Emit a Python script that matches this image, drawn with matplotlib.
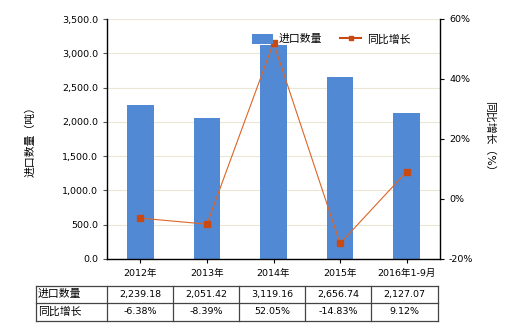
import matplotlib
matplotlib.use("Agg")
import matplotlib.pyplot as plt
from matplotlib.lines import Line2D
from matplotlib.patches import Patch
from matplotlib.ticker import FuncFormatter

plt.rcParams['font.family'] = ['DejaVu Sans', 'Noto Sans CJK SC']

categories = ["2012年", "2013年", "2014年", "2015年", "2016年1-9月"]
import_qty = [2239.18, 2051.42, 3119.16, 2656.74, 2127.07]
yoy_growth = [-6.38, -8.39, 52.05, -14.83, 9.12]
qty_labels = ["2,239.18", "2,051.42", "3,119.16", "2,656.74", "2,127.07"]
growth_labels = ["-6.38%", "-8.39%", "52.05%", "-14.83%", "9.12%"]
series_names = ["进口数量", "同比增长"]

bar_color = "#5189d4"
line_color = "#dd6526"
marker_color = "#c94912"
fs = 6.8
fs_cjk = 7.8

fig = plt.figure(figsize=(5.2, 3.3), dpi=100)
ax = fig.add_axes([107/520, 1-259/330, (440-107)/520, (259-19)/330])
x = list(range(len(categories)))
ax.bar(x, import_qty, width=0.4, color=bar_color, zorder=2)
ax.set_xlim(-0.5, len(categories)-0.5)
ax.set_ylim(0, 3500)
ax.set_yticks([i*500 for i in range(8)])
ax.yaxis.set_major_formatter(FuncFormatter(lambda v, p: f"{v:,.1f}"))
ax.set_xticks(x)
ax.set_xticklabels(categories, fontsize=fs)
ax.tick_params(axis='y', labelsize=fs, length=3, width=0.8, color="#555555")
ax.tick_params(axis='x', length=3, width=0.8, pad=4)
ax.grid(axis='y', color="#ebe6d6", linewidth=0.8, zorder=0)
ax.set_axisbelow(True)
for s in ["top", "right"]:
    ax.spines[s].set_visible(False)
ax.spines["left"].set_linewidth(1.0)
ax.spines["bottom"].set_linewidth(1.0)
ax.set_ylabel("进口数量（吨）", fontsize=fs_cjk)
ax.yaxis.set_label_coords(-0.213, 0.5)

ax2 = ax.twinx()
ax2.plot(x, yoy_growth, color=line_color, linewidth=0.8, marker='s', markersize=4,
         markerfacecolor=marker_color, markeredgecolor=marker_color, zorder=3)
ax2.set_ylim(-20, 60)
ax2.set_yticks([-20, 0, 20, 40, 60])
ax2.yaxis.set_major_formatter(FuncFormatter(lambda v, p: f"{v:.0f}%"))
ax2.tick_params(axis='y', labelsize=fs, length=3, width=0.8)
for s in ["top", "left", "bottom"]:
    ax2.spines[s].set_visible(False)
ax2.spines["right"].set_linewidth(1.0)
ax2.set_ylabel("同比增长（%）", fontsize=fs_cjk, rotation=270, va='center')
ax2.yaxis.set_label_coords(1.150, 0.5)

handles = [Patch(facecolor=bar_color, edgecolor='none'),
           Line2D([0], [0], color=marker_color, linewidth=1.5, marker='s', markersize=3.5,
                  markerfacecolor=marker_color, markeredgecolor=marker_color)]
leg = ax2.legend(handles, series_names, loc='upper right', bbox_to_anchor=(0.94, 0.98),
                 ncol=2, frameon=False, fontsize=fs_cjk, handlelength=2.0, handleheight=1.1,
                 columnspacing=1.6, handletextpad=0.5)

# Table
tax = fig.add_axes([0, 0, 1, 1], facecolor='none')
tax.set_xlim(0, 520)
tax.set_ylim(330, 0)
tax.axis('off')
left, first_w = 36, 71
col_w = (437.5 - 107) / 5
ys = [285.5, 302.8, 320.5]
xs = [left, left + first_w] + [107 + col_w*(i+1) for i in range(5)]
lc = "#444444"
for yy in ys:
    tax.plot([xs[0], xs[-1]], [yy, yy], color=lc, linewidth=0.9)
for xx in xs:
    tax.plot([xx, xx], [ys[0], ys[-1]], color=lc, linewidth=0.9)
rows = [qty_labels, growth_labels]
for r, (name, vals) in enumerate(zip(series_names, rows)):
    yc = (ys[r] + ys[r+1]) / 2
    tax.text(left + 2, yc, name, fontsize=fs_cjk, va='center', ha='left')
    for i, v in enumerate(vals):
        xc = 107 + col_w*(i+0.5)
        tax.text(xc, yc, v, fontsize=fs, va='center', ha='center')

fig.savefig("out.png", dpi=100)
